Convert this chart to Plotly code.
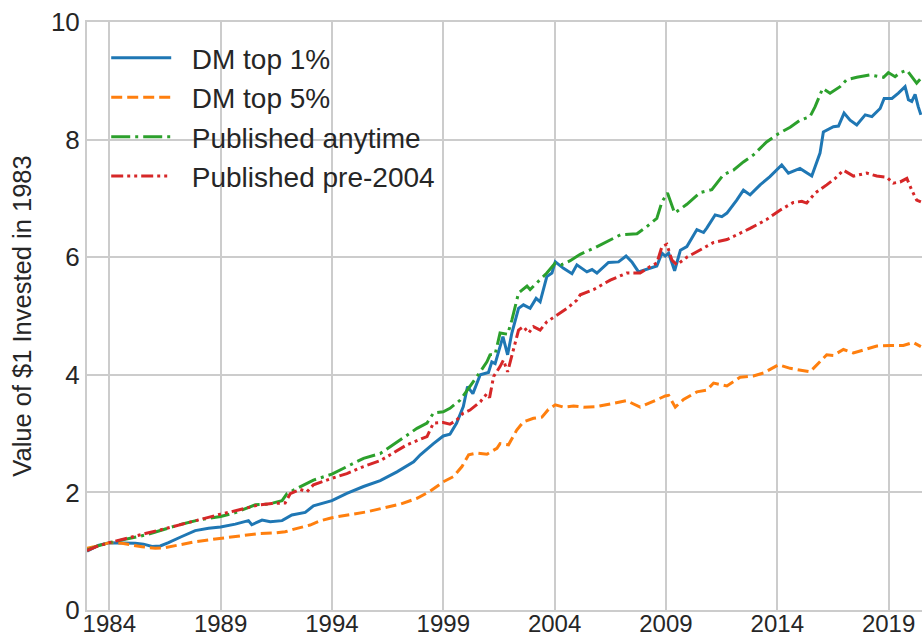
import plotly.graph_objects as go

# ---- data (decimal years, value of $1) ----
dm1_x = [1983.0, 1983.5, 1984.0, 1984.6, 1985.17, 1985.54, 1985.92, 1986.29, 1986.66, 1987.26, 1987.86,
         1988.46, 1989.0, 1989.66, 1990.25, 1990.4, 1990.86, 1991.23, 1991.76, 1992.2, 1992.8, 1993.17,
         1994.0, 1994.67, 1995.42, 1996.17, 1996.92, 1997.67, 1997.97, 1998.56, 1999.0, 1999.3, 1999.6,
         1999.9, 2000.09, 2000.33, 2000.66, 2001.03, 2001.18, 2001.33, 2001.68, 2001.89, 2002.08, 2002.38,
         2002.6, 2002.9, 2003.17, 2003.35, 2003.65, 2003.88, 2004.03, 2004.4, 2004.78, 2005.0, 2005.45,
         2005.68, 2005.9, 2006.42, 2006.87, 2007.21, 2007.47, 2007.77, 2008.14, 2008.59, 2008.82, 2008.97,
         2009.12, 2009.39, 2009.65, 2009.94, 2010.39, 2010.69, 2010.84, 2011.21, 2011.51, 2011.74, 2012.18,
         2012.48, 2012.78, 2013.23, 2013.67, 2014.05, 2014.2, 2014.5, 2015.02, 2015.55, 2015.92, 2016.07,
         2016.3, 2016.52, 2016.75, 2017.0, 2017.27, 2017.57, 2017.95, 2018.25, 2018.62, 2018.8, 2019.15,
         2019.44, 2019.74, 2019.89, 2020.04, 2020.19, 2020.33, 2020.45]
dm1_y = [1.00, 1.10, 1.145, 1.145, 1.135, 1.12, 1.08, 1.09, 1.145, 1.25, 1.35,
         1.39, 1.41, 1.46, 1.52, 1.45, 1.53, 1.50, 1.52, 1.615, 1.66, 1.77,
         1.86, 1.985, 2.10, 2.20, 2.35, 2.52, 2.64, 2.83, 2.96, 2.99, 3.18,
         3.46, 3.80, 3.68, 4.00, 4.04, 4.22, 4.19, 4.65, 4.34, 4.71, 5.13,
         5.19, 5.13, 5.30, 5.24, 5.67, 5.73, 5.92, 5.81, 5.72, 5.87, 5.75,
         5.79, 5.73, 5.91, 5.92, 6.02, 5.92, 5.75, 5.79, 5.85, 6.07, 6.02,
         6.07, 5.77, 6.12, 6.18, 6.47, 6.42, 6.50, 6.72, 6.69, 6.75, 6.97,
         7.14, 7.06, 7.23, 7.37, 7.51, 7.57, 7.43, 7.51, 7.38, 7.77, 8.13,
         8.17, 8.22, 8.23, 8.45, 8.33, 8.25, 8.42, 8.39, 8.53, 8.70, 8.70,
         8.79, 8.90, 8.68, 8.65, 8.77, 8.56, 8.42]

dm5_x = [1983.0, 1983.5, 1984.0, 1984.57, 1985.02, 1985.47, 1986.07, 1986.51, 1987.11, 1987.86, 1988.61,
         1989.36, 1990.1, 1990.7, 1991.45, 1991.9, 1992.35, 1993.02, 1993.5, 1994.0, 1995.57, 1997.07,
         1997.82, 1998.41, 1999.0, 1999.46, 1999.84, 2000.14, 2000.51, 2000.96, 2001.41, 2001.55, 2001.93,
         2002.3, 2002.6, 2003.05, 2003.43, 2003.72, 2004.03, 2004.4, 2004.85, 2005.3, 2005.9, 2006.5,
         2007.24, 2007.84, 2008.44, 2008.97, 2009.12, 2009.42, 2009.79, 2010.39, 2010.84, 2011.14, 2011.74,
         2012.33, 2012.93, 2013.38, 2014.05, 2014.58, 2015.47, 2015.85, 2016.22, 2016.52, 2016.97, 2017.42,
         2017.87, 2018.47, 2019.07, 2019.66, 2020.11, 2020.45]
dm5_y = [1.05, 1.09, 1.145, 1.135, 1.105, 1.075, 1.05, 1.06, 1.105, 1.16, 1.20,
         1.235, 1.275, 1.30, 1.31, 1.33, 1.38, 1.445, 1.52, 1.57, 1.67, 1.80,
         1.90, 2.02, 2.18, 2.27, 2.44, 2.64, 2.67, 2.65, 2.75, 2.83, 2.81,
         3.06, 3.20, 3.26, 3.28, 3.41, 3.49, 3.45, 3.47, 3.45, 3.46, 3.51,
         3.56, 3.45, 3.55, 3.64, 3.65, 3.45, 3.58, 3.71, 3.74, 3.86, 3.81,
         3.96, 3.98, 4.03, 4.17, 4.11, 4.05, 4.20, 4.34, 4.33, 4.43, 4.37,
         4.42, 4.49, 4.50, 4.50, 4.55, 4.48]

pub_any_x = [1983.0, 1983.5, 1984.0, 1984.87, 1985.62, 1986.37, 1987.11, 1988.0, 1989.0, 1989.66, 1990.56,
             1991.16, 1991.76, 1991.98, 1992.43, 1993.17, 1994.0, 1994.67, 1995.42, 1996.17, 1996.92, 1997.37,
             1997.82, 1998.27, 1998.56, 1999.0, 1999.3, 1999.76, 2000.2, 2000.66, 2000.96, 2001.1, 2001.33,
             2001.55, 2001.89, 2002.08, 2002.38, 2002.76, 2002.9, 2003.2, 2003.65, 2004.03, 2004.3, 2004.7,
             2005.15, 2005.75, 2006.35, 2006.95, 2007.7, 2008.14, 2008.59, 2008.82, 2009.07, 2009.2, 2009.39,
             2009.94, 2010.54, 2011.06, 2011.58, 2012.03, 2012.48, 2012.93, 2013.52, 2014.05, 2014.58, 2015.02,
             2015.47, 2015.7, 2016.04, 2016.37, 2016.82, 2017.12, 2017.57, 2018.17, 2018.77, 2018.99, 2019.29,
             2019.52, 2019.82, 2020.04, 2020.26, 2020.45]
pub_any_y = [1.02, 1.09, 1.145, 1.22, 1.275, 1.36, 1.445, 1.53, 1.59, 1.655, 1.79,
             1.80, 1.86, 1.98, 2.07, 2.21, 2.31, 2.44, 2.58, 2.66, 2.86, 2.98,
             3.09, 3.18, 3.35, 3.37, 3.43, 3.57, 3.80, 4.05, 4.22, 4.34, 4.35,
             4.71, 4.69, 4.93, 5.39, 5.51, 5.45, 5.56, 5.73, 5.90, 5.87, 5.94,
             6.05, 6.15, 6.26, 6.38, 6.40, 6.52, 6.66, 6.94, 7.09, 6.94, 6.75,
             6.90, 7.10, 7.15, 7.40, 7.48, 7.62, 7.74, 7.96, 8.10, 8.21, 8.33,
             8.39, 8.56, 8.87, 8.79, 8.90, 9.02, 9.06, 9.10, 9.06, 9.14, 9.07,
             9.14, 9.18, 9.07, 8.96, 9.04]

pub_pre_x = [1983.0, 1983.5, 1984.0, 1984.87, 1985.62, 1986.37, 1987.11, 1988.0, 1989.0, 1989.8, 1990.7,
             1991.3, 1991.9, 1992.13, 1992.58, 1992.88, 1993.17, 1994.0, 1994.67, 1995.42, 1996.17, 1996.62,
             1997.37, 1997.82, 1998.27, 1998.56, 1999.0, 1999.3, 1999.6, 1999.9, 2000.2, 2000.66, 2000.96,
             2001.08, 2001.26, 2001.55, 2001.7, 2001.89, 2002.16, 2002.38, 2002.6, 2002.83, 2003.05, 2003.35,
             2003.65, 2004.03, 2004.56, 2005.0, 2005.15, 2005.75, 2006.5, 2007.24, 2007.84, 2008.29, 2008.59,
             2008.82, 2009.04, 2009.27, 2009.49, 2009.94, 2010.54, 2011.14, 2011.74, 2012.18, 2012.78, 2013.52,
             2014.12, 2014.72, 2015.1, 2015.32, 2015.7, 2016.22, 2016.6, 2016.97, 2017.42, 2018.02, 2018.47,
             2018.92, 2019.21, 2019.52, 2019.82, 2020.04, 2020.26, 2020.45]
pub_pre_y = [1.01, 1.09, 1.145, 1.235, 1.30, 1.37, 1.445, 1.54, 1.63, 1.70, 1.785,
             1.81, 1.82, 1.98, 2.05, 2.01, 2.13, 2.24, 2.32, 2.44, 2.54, 2.64,
             2.81, 2.88, 2.95, 3.18, 3.19, 3.16, 3.23, 3.35, 3.40, 3.54, 3.68,
             3.61, 3.97, 4.14, 4.25, 4.05, 4.42, 4.76, 4.82, 4.71, 4.82, 4.76,
             4.90, 4.99, 5.13, 5.27, 5.36, 5.45, 5.61, 5.73, 5.73, 5.84, 5.90,
             6.18, 6.22, 5.95, 5.87, 6.00, 6.12, 6.25, 6.30, 6.38, 6.49, 6.64,
             6.80, 6.93, 6.95, 6.92, 7.09, 7.23, 7.34, 7.48, 7.38, 7.43, 7.38,
             7.36, 7.26, 7.28, 7.34, 7.14, 6.97, 6.94]

x_ticks = [1984, 1989, 1994, 1999, 2004, 2009, 2014, 2019]
y_ticks = [0, 2, 4, 6, 8, 10]

series = [
    ("DM top 1%", dm1_x, dm1_y, "#1f77b4", "solid"),
    ("DM top 5%", dm5_x, dm5_y, "#ff7f0e", "11px,5px"),
    ("Published anytime", pub_any_x, pub_any_y, "#2ca02c", "19px,5px,3px,5px"),
    ("Published pre-2004", pub_pre_x, pub_pre_y, "#d62728", "12px,4px,3px,4px,3px,4px"),
]

NB = "\u00a0\u00a0"
fig = go.Figure()
for i, (name, xs, ys, color, dash) in enumerate(series):
    fig.add_trace(go.Scatter(
        x=xs, y=ys, mode="lines", name=NB + name, legendgroup=f"g{i}",
        line=dict(color=color, width=3, dash=dash),
    ))

grid = "#cccccc"
fig.update_layout(
    width=922, height=640,
    margin=dict(l=87, r=0, t=22, b=30),
    paper_bgcolor="white", plot_bgcolor="white",
    font=dict(family="Arial, Liberation Sans, sans-serif", color="#262626", size=25),
    legend=dict(
        x=0.023, y=0.981, xanchor="left", yanchor="top",
        bgcolor="rgba(255,255,255,0)", font=dict(size=28),
        tracegroupgap=0, itemwidth=60,
    ),
    showlegend=True,
)
fig.update_xaxes(
    range=[1983.0, 2020.5], tickvals=x_ticks, ticktext=[str(t) for t in x_ticks],
    showgrid=True, gridcolor=grid, gridwidth=2,
    showline=True, linecolor=grid, linewidth=2, mirror=True,
    ticks="", zeroline=False, tickfont=dict(size=24), automargin=False,
    ticklabelstandoff=-9,
)
fig.update_yaxes(
    range=[0, 10], tickvals=y_ticks,
    showgrid=True, gridcolor=grid, gridwidth=2,
    showline=True, linecolor=grid, linewidth=2, mirror=False,
    ticks="", zeroline=False, tickfont=dict(size=26), automargin=False,
    title=dict(text="Value of $1 Invested in 1983", font=dict(size=25.5), standoff=12),
)

fig.write_html(
    "out.html",
    config={"displayModeBar": False},
    post_script="document.body.style.margin='0';document.body.style.overflow='hidden';",
)
